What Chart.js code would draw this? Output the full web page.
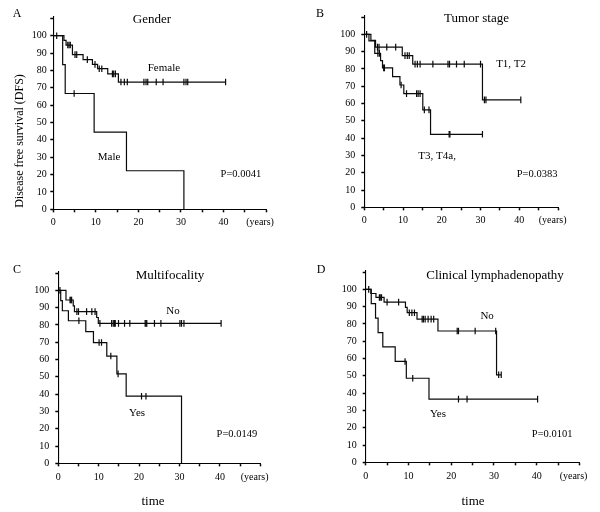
<!DOCTYPE html>
<html><head><meta charset="utf-8">
<script src="https://cdn.jsdelivr.net/npm/chart.js@4"></script>
<style>
html,body{margin:0;padding:0;background:#fff;}
#wrap{position:relative;width:600px;height:512px;background:#fff;}
#wrap canvas{position:absolute;}
</style></head><body>
<div id="wrap">
<canvas id="cA" width="300" height="256" style="left:0;top:0"></canvas>
<canvas id="cB" width="300" height="256" style="left:300px;top:0"></canvas>
<canvas id="cC" width="300" height="256" style="left:0;top:256px"></canvas>
<canvas id="cD" width="300" height="256" style="left:300px;top:256px"></canvas>
</div>
<script>
// ---------- tick labels ----------
const xTickValues = [0, 5, 10, 15, 20, 25, 30, 35, 40, 45, 50];
const xTickLabels = ['0', '', '10', '', '20', '', '30', '', '40', '', ''];
const yTickValues = [0, 10, 20, 30, 40, 50, 60, 70, 80, 90, 100, 110];
const yTickLabels = ['0', '10', '20', '30', '40', '50', '60', '70', '80', '90', '100', ''];
const xUnitLabel = '(years)';
const xUnitAt = 48.6;
const yAxisTitle = 'Disease free survival (DFS)';
const xAxisTitle = 'time';

// ---------- Panel A: Gender ----------
const femaleEventTimes = [2.5, 3.0, 4.5, 7.0, 9.2, 10.4, 12.8, 15.3];
const femaleSurvival   = [97.3, 94.6, 89.1, 86.2, 83.5, 81.0, 78.0, 73.3];
const femaleCensorTimes = [0.8, 3.4, 3.7, 4.0, 5.1, 5.5, 8.0, 9.8, 10.8, 11.4, 13.9, 14.2, 14.6, 15.9, 16.7, 17.4, 21.3, 21.8, 22.2, 24.2, 25.8, 30.7, 31.2, 31.6, 40.5];
const maleEventTimes = [2.2, 2.8, 9.6, 17.2, 30.7];
const maleSurvival   = [83.3, 66.7, 44.4, 22.2, 0];
const maleCensorTimes = [4.9];

// ---------- Panel B: Tumor stage ----------
const t12EventTimes = [1.7, 2.9, 9.8, 12.5, 30.5];
const t12Survival   = [96.5, 92.6, 87.7, 82.8, 62.1];
const t12CensorTimes = [0.6, 3.4, 3.8, 5.8, 8.1, 10.5, 11.1, 11.6, 13.1, 13.7, 14.4, 17.7, 21.6, 22.0, 23.8, 25.8, 30.0, 31.0, 31.4, 40.4];
const t34EventTimes = [1.2, 2.7, 4.2, 4.7, 7.3, 9.2, 10.2, 15.1, 17.1];
const t34Survival   = [96.2, 89.0, 84.8, 80.6, 75.6, 70.7, 65.7, 56.3, 42.2];
const t34CensorTimes = [3.5, 3.9, 5.0, 5.2, 9.5, 10.9, 13.5, 13.9, 14.4, 15.5, 16.7, 21.9, 22.1, 30.5];

// ---------- Panel C: Multifocality ----------
const multiNoEventTimes = [1.9, 3.7, 4.0, 9.5, 9.9];
const multiNoSurvival   = [94.4, 91.0, 87.7, 84.3, 80.9];
const multiNoCensorTimes = [0.4, 2.9, 3.1, 3.3, 4.6, 5.0, 7.0, 8.3, 9.1, 10.3, 13.2, 13.6, 13.9, 14.1, 14.9, 16.4, 17.7, 21.5, 21.7, 21.9, 23.8, 25.4, 30.1, 30.5, 31.1, 40.3];
const multiYesEventTimes = [0.6, 1.0, 2.5, 6.8, 8.7, 12.0, 14.5, 16.8, 30.5];
const multiYesSurvival   = [94.1, 88.2, 82.4, 76.1, 69.8, 62.0, 51.7, 38.8, 0];
const multiYesCensorTimes = [5.1, 10.1, 10.7, 13.0, 14.8, 20.6, 21.7];

// ---------- Panel D: Clinical lymphadenopathy ----------
const lymphNoEventTimes = [1.2, 2.4, 4.3, 9.3, 9.7, 12.0, 16.9, 30.6];
const lymphNoSurvival   = [97.6, 95.3, 92.6, 89.6, 86.5, 82.8, 75.9, 50.6];
const lymphNoCensorTimes = [0.7, 3.2, 3.4, 3.7, 5.0, 7.7, 10.2, 10.8, 11.4, 13.2, 13.5, 13.9, 14.6, 15.3, 15.9, 21.4, 21.7, 25.6, 30.4, 31.1, 31.7];
const lymphYesEventTimes = [1.3, 2.3, 2.9, 4.0, 6.9, 9.5, 14.8];
const lymphYesSurvival   = [91.7, 83.3, 75.0, 66.7, 58.3, 48.6, 36.5];
const lymphYesCensorTimes = [9.2, 11.0, 21.7, 23.7, 40.2];

// ---------- helpers ----------
const SERIF = '"Liberation Serif","Times New Roman",Times,serif';

function kmLine(times, surv, censors) {
  const pts = [{x: 0, y: 100}];
  times.forEach((t, i) => pts.push({x: t, y: surv[i]}));
  const lastT = times.length ? times[times.length - 1] : 0;
  const lastS = pts[pts.length - 1].y;
  const lastC = censors.length ? Math.max(...censors) : 0;
  if (lastC > lastT) pts.push({x: lastC, y: lastS});
  return pts;
}
function kmCensor(times, surv, censors) {
  return censors.map(c => {
    let s = 100;
    times.forEach((t, i) => { if (t <= c) s = surv[i]; });
    return {x: c, y: s};
  });
}
function groupDatasets(times, surv, censors) {
  return [
    {data: kmLine(times, surv, censors), showLine: true, stepped: 'before',
     borderColor: '#0a0a0a', borderWidth: 1.2, pointRadius: 0, fill: false, order: 2},
    {data: kmCensor(times, surv, censors), showLine: false, pointStyle: 'line',
     rotation: 90, pointRadius: 3.3, pointBorderColor: '#0a0a0a', pointBorderWidth: 1.2,
     pointBackgroundColor: '#0a0a0a', order: 1}
  ];
}

function makeChart(id, p) {
  const Wy = 30, Hx = 20, W = 300, H = 256;
  const textPlugin = {
    id: 'panelText' + id,
    afterDraw(chart) {
      const ctx = chart.ctx, xs = chart.scales.x, ys = chart.scales.y;
      ctx.save();
      ctx.fillStyle = '#000';
      ctx.textAlign = 'center';
      ctx.textBaseline = 'middle';
      ctx.font = '12px ' + SERIF;
      ctx.fillText(p.letter, p.letterPos[0], p.letterPos[1]);
      ctx.font = '13px ' + SERIF;
      ctx.fillText(p.title, p.titlePos[0], p.titlePos[1]);
      ctx.font = '11px ' + SERIF;
      p.groups.forEach(g => ctx.fillText(g.text, xs.getPixelForValue(g.x), ys.getPixelForValue(g.y)));
      ctx.font = '10.5px ' + SERIF;
      ctx.fillText(p.pText, xs.getPixelForValue(p.pPos[0]), ys.getPixelForValue(p.pPos[1]));
      if (p.yTitle) {
        ctx.save();
        ctx.translate(p.yTitle[0], p.yTitle[1]);
        ctx.rotate(-Math.PI / 2);
        ctx.font = '12px ' + SERIF;
        ctx.fillText(yAxisTitle, 0, 0);
        ctx.restore();
      }
      if (p.xTitle) {
        ctx.font = '13px ' + SERIF;
        ctx.fillText(xAxisTitle, p.xTitle[0], p.xTitle[1]);
      }
      ctx.restore();
    }
  };
  const isUnit = v => Math.abs(v - xUnitAt) < 1e-6;
  return new Chart(document.getElementById(id), {
    type: 'scatter',
    data: {datasets: [].concat(...p.groupsData.map(g => groupDatasets(g[0], g[1], g[2])))},
    options: {
      responsive: false, animation: false, devicePixelRatio: 1,
      layout: {padding: {left: p.area.L - Wy, right: W - p.area.R, top: p.area.T, bottom: H - p.area.B - Hx}},
      plugins: {legend: {display: false}, tooltip: {enabled: false}},
      scales: {
        x: {
          type: 'linear', min: 0, max: 50,
          afterBuildTicks: s => {
            const vals = xTickValues.slice(0, -1).concat([xUnitAt], xTickValues.slice(-1));
            s.ticks = vals.map(v => ({value: v}));
          },
          afterFit: s => { s.height = Hx; },
          ticks: {
            autoSkip: false, maxRotation: 0, minRotation: 0, padding: p.xPad, color: '#000',
            font: {family: SERIF, size: 10},
            callback: v => {
              if (isUnit(v)) return xUnitLabel;
              const i = xTickValues.indexOf(v);
              return i >= 0 ? xTickLabels[i] : '';
            }
          },
          grid: {drawOnChartArea: false, drawTicks: true, tickLength: 3,
                 tickColor: c => (c.tick && isUnit(c.tick.value)) ? 'rgba(0,0,0,0)' : '#000',
                 tickWidth: 1.5},
          border: {display: true, color: '#000', width: 1.1}
        },
        y: {
          type: 'linear', min: 0, max: 111,
          afterBuildTicks: s => { s.ticks = yTickValues.map(v => ({value: v})); },
          afterFit: s => { s.width = Wy; },
          ticks: {
            padding: p.yPad, color: '#000', font: {family: SERIF, size: 10},
            callback: v => { const i = yTickValues.indexOf(v); return i >= 0 ? yTickLabels[i] : ''; }
          },
          grid: {drawOnChartArea: false, drawTicks: true, tickLength: 3, tickColor: '#000', tickWidth: 1.5},
          border: {display: true, color: '#000', width: 1.1}
        }
      }
    },
    plugins: [textPlugin]
  });
}

makeChart('cA', {
  letter: 'A', letterPos: [17, 14], title: 'Gender', titlePos: [152, 20],
  area: {L: 53.3, R: 266, T: 16.6, B: 209.3}, xPad: 4, yPad: 3.5,
  groupsData: [[femaleEventTimes, femaleSurvival, femaleCensorTimes], [maleEventTimes, maleSurvival, maleCensorTimes]],
  groups: [{text: 'Female', x: 26.0, y: 81.4}, {text: 'Male', x: 13.1, y: 30.1}],
  pText: 'P=0.0041', pPos: [44.1, 20.3], yTitle: [20, 141]
});
makeChart('cB', {
  letter: 'B', letterPos: [20, 14], title: 'Tumor stage', titlePos: [176.5, 19],
  area: {L: 64.3, R: 258, T: 15.3, B: 207.3}, xPad: 4, yPad: 6,
  groupsData: [[t12EventTimes, t12Survival, t12CensorTimes], [t34EventTimes, t34Survival, t34CensorTimes]],
  groups: [{text: 'T1, T2', x: 37.9, y: 82.8}, {text: 'T3, T4a,', x: 18.8, y: 29.7}],
  pText: 'P=0.0383', pPos: [44.6, 19.2]
});
makeChart('cC', {
  letter: 'C', letterPos: [17, 14], title: 'Multifocality', titlePos: [170, 20],
  area: {L: 58.3, R: 260.3, T: 15.3, B: 207.3}, xPad: 5, yPad: 6,
  groupsData: [[multiNoEventTimes, multiNoSurvival, multiNoCensorTimes], [multiYesEventTimes, multiYesSurvival, multiYesCensorTimes]],
  groups: [{text: 'No', x: 28.4, y: 88.0}, {text: 'Yes', x: 19.5, y: 29.1}],
  pText: 'P=0.0149', pPos: [44.2, 17.0], xTitle: [153, 246]
});
makeChart('cD', {
  letter: 'D', letterPos: [21, 14], title: 'Clinical lymphadenopathy', titlePos: [195, 20],
  area: {L: 65.7, R: 279.5, T: 14.3, B: 206.3}, xPad: 5, yPad: 6,
  groupsData: [[lymphNoEventTimes, lymphNoSurvival, lymphNoCensorTimes], [lymphYesEventTimes, lymphYesSurvival, lymphYesCensorTimes]],
  groups: [{text: 'No', x: 28.4, y: 84.6}, {text: 'Yes', x: 16.9, y: 27.9}],
  pText: 'P=0.0101', pPos: [43.6, 16.4], xTitle: [173, 246]
});
</script>
</body></html>
